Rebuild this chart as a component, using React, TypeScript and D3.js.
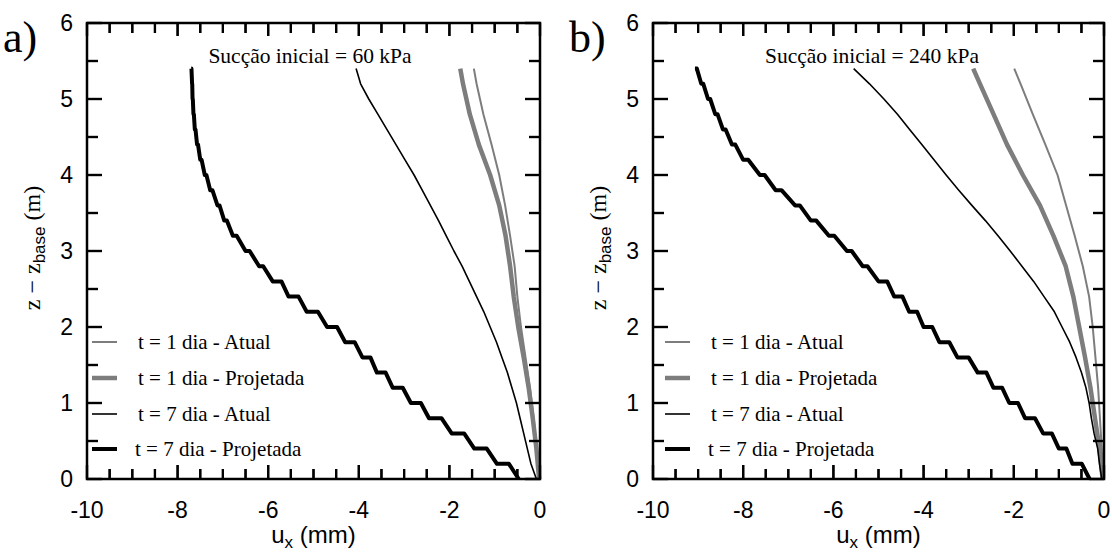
import React, { useEffect, useRef } from 'react';
import * as d3 from 'd3';

// depth grids (m)
const zFine = [0, 0.2, 0.4, 0.6, 0.8, 1.0, 1.2, 1.4, 1.6, 1.8, 2.0, 2.2, 2.4, 2.6, 2.8, 3.0, 3.2, 3.4, 3.6, 3.8, 4.0, 4.2, 4.4, 4.6, 4.8, 5.0, 5.2, 5.4];
const zCoarse = [0, 0.4, 0.8, 1.2, 1.6, 2.0, 2.4, 2.8, 3.2, 3.6, 4.0, 4.4, 4.8, 5.2, 5.4];

// Panel a (60 kPa) — u_x (mm)
const a_t1_atual = [-0.02, -0.07, -0.14, -0.22, -0.32, -0.42, -0.5, -0.56, -0.66, -0.77, -0.9, -1.07, -1.25, -1.4, -1.46];
const a_t1_proj = [-0.02, -0.08, -0.16, -0.25, -0.36, -0.48, -0.58, -0.66, -0.76, -0.9, -1.1, -1.35, -1.55, -1.7, -1.76];
const a_t7_atual = [-0.08, -0.2, -0.28, -0.36, -0.44, -0.52, -0.62, -0.72, -0.84, -0.96, -1.1, -1.24, -1.4, -1.56, -1.72, -1.9, -2.07, -2.24, -2.42, -2.6, -2.78, -2.98, -3.18, -3.38, -3.58, -3.78, -3.96, -4.06];
const a_t7_proj = [-0.47, -0.95, -1.45, -1.95, -2.45, -2.85, -3.25, -3.6, -3.92, -4.3, -4.7, -5.15, -5.55, -5.9, -6.2, -6.5, -6.78, -6.97, -7.12, -7.28, -7.4, -7.5, -7.57, -7.62, -7.65, -7.67, -7.68, -7.7];

// Panel b (240 kPa)
const b_t1_atual = [-0.02, -0.05, -0.09, -0.13, -0.19, -0.25, -0.33, -0.47, -0.65, -0.84, -1.03, -1.3, -1.58, -1.85, -1.99];
const b_t1_proj = [-0.03, -0.1, -0.2, -0.3, -0.42, -0.55, -0.68, -0.85, -1.12, -1.42, -1.8, -2.15, -2.45, -2.75, -2.9];
const b_t7_atual = [-0.05, -0.1, -0.14, -0.22, -0.28, -0.33, -0.4, -0.5, -0.62, -0.76, -0.93, -1.1, -1.33, -1.56, -1.82, -2.08, -2.35, -2.63, -2.93, -3.22, -3.5, -3.77, -4.04, -4.31, -4.58, -4.88, -5.2, -5.55];
const b_t7_proj = [-0.32, -0.7, -1.0, -1.35, -1.75, -2.1, -2.45, -2.8, -3.25, -3.65, -4.0, -4.32, -4.65, -5.0, -5.35, -5.7, -6.1, -6.5, -6.85, -7.28, -7.63, -8.0, -8.25, -8.45, -8.62, -8.78, -8.93, -9.07];

const xTicks = [-10, -9.5, -9, -8.5, -8, -7.5, -7, -6.5, -6, -5.5, -5, -4.5, -4, -3.5, -3, -2.5, -2, -1.5, -1, -0.5, 0];
const yTicks = [0, 0.5, 1, 1.5, 2, 2.5, 3, 3.5, 4, 4.5, 5, 5.5, 6];
const xTickLabels = ['-10', '-8', '-6', '-4', '-2', '0'];
const yTickLabels = ['0', '1', '2', '3', '4', '5', '6'];
const legendLabels = ['t = 1 dia - Atual', 't = 1 dia - Projetada', 't = 7 dia - Atual', 't = 7 dia - Projetada'];

const GRAY = '#7d7d7d';
const styles = [
  { color: GRAY, width: 2, step: false },
  { color: GRAY, width: 4.5, step: false },
  { color: '#000', width: 1.6, step: false },
  { color: '#000', width: 4, step: true },
];

type PanelProps = {
  x0: number; x1: number; tag: string; title: string; titleX: number;
  series: { x: number[]; z: number[] }[]; legendX: number;
};

const Y0 = 23, Y1 = 479;
const SANS = "'Liberation Sans', Arial, Helvetica, sans-serif";
const SERIF = "'Liberation Serif', 'Times New Roman', serif";

function Panel({ x0, x1, tag, title, titleX, series, legendX }: PanelProps) {
  const sx = d3.scaleLinear().domain([-10, 0]).range([x0, x1]);
  const sy = d3.scaleLinear().domain([0, 6]).range([Y1, Y0]);
  const line = d3.line<[number, number]>().x(d => sx(d[0])).y(d => sy(d[1]));
  const tickRef = useRef<SVGGElement>(null);

  useEffect(() => {
    if (!tickRef.current) return;
    const g = d3.select(tickRef.current);
    g.selectAll('*').remove();
    xTicks.forEach((v, i) => {
      const major = i % 4 === 0;
      g.append('line').attr('x1', sx(v)).attr('x2', sx(v)).attr('y1', Y1).attr('y2', Y1 - (major ? 14 : 10))
        .attr('stroke', '#000').attr('stroke-width', 2.2);
      g.append('line').attr('x1', sx(v)).attr('x2', sx(v)).attr('y1', Y0).attr('y2', Y0 + (major ? 13 : 10))
        .attr('stroke', '#000').attr('stroke-width', 2.2);
    });
    yTicks.forEach((v, i) => {
      const L = i % 2 === 0 ? 15 : 11;
      g.append('line').attr('x1', x0).attr('x2', x0 + L).attr('y1', sy(v)).attr('y2', sy(v))
        .attr('stroke', '#000').attr('stroke-width', 2.2);
      g.append('line').attr('x1', x1).attr('x2', x1 - L).attr('y1', sy(v)).attr('y2', sy(v))
        .attr('stroke', '#000').attr('stroke-width', 2.2);
    });
  });

  const pathFor = (xs: number[], zs: number[], step: boolean) => {
    const pts: [number, number][] = [];
    xs.forEach((v, k) => {
      if (k === 0 || !step) pts.push([v, zs[k]]);
      else {
        const f = zs[k] <= 2.6 ? 0.55 : 0.3;
        const xm = xs[k - 1] + (1 - f) * (v - xs[k - 1]);
        pts.push([xm, zs[k]]);
        pts.push([v, zs[k]]);
      }
    });
    return line(pts) || '';
  };

  const legendRows = [342, 378, 414, 449];

  return (
    <g>
      <text x={x0 - 84} y={52} fontFamily={SERIF} fontSize={44}>{tag}</text>
      {series.map((s, i) => (
        <path key={'s' + i} d={pathFor(s.x, s.z, styles[i].step)} fill="none" stroke={styles[i].color}
          strokeWidth={styles[i].width} strokeLinejoin="round" strokeLinecap="butt" />
      ))}
      <rect x={x0} y={Y0} width={x1 - x0} height={Y1 - Y0} fill="none" stroke="#000" strokeWidth={2.5} />
      {xTickLabels.map(t => (
        <text key={'xl' + t} x={sx(+t)} y={518} textAnchor="middle" fontFamily={SANS} fontSize={23}>{t}</text>
      ))}
      {yTickLabels.map(t => (
        <text key={'yl' + t} x={x0 - 14} y={sy(+t) + 8} textAnchor="end" fontFamily={SANS} fontSize={23}>{t}</text>
      ))}
      <text x={(x0 + x1) / 2} y={543} textAnchor="middle" fontFamily={SANS} fontSize={24}>
        u<tspan fontSize={17} dy={5}>x</tspan><tspan dy={-5}> (mm)</tspan>
      </text>
      <text transform={`translate(${x0 - 47},${248}) rotate(-90)`} textAnchor="middle" fontFamily={SERIF} fontSize={24}>
        z − z<tspan fontSize={17} dy={5} fontFamily={SANS}>base</tspan><tspan dy={-5}> (m)</tspan>
      </text>
      <text x={titleX} y={63} textAnchor="middle" fontFamily={SERIF} fontSize={21.5}>{title}</text>
      {legendLabels.map((l, i) => (
        <g key={'lg' + i}>
          <line x1={legendX} x2={legendX + 25} y1={legendRows[i]} y2={legendRows[i]} stroke={styles[i].color} strokeWidth={styles[i].width} />
          <text x={legendX + (i === 3 ? 43 : 46)} y={legendRows[i] + 7} fontFamily={SERIF} fontSize={21}>{l}</text>
        </g>
      ))}
      {xTicks.map((v, i) => (
        <rect key={'xb' + i} x={sx(v) - 1.1} y={Y1 - (i % 4 === 0 ? 14 : 10)} width={2.2} height={i % 4 === 0 ? 14 : 10} fill="#000" />
      ))}
      {xTicks.map((v, i) => (
        <rect key={'xtp' + i} x={sx(v) - 1.1} y={Y0} width={2.2} height={i % 4 === 0 ? 13 : 10} fill="#000" />
      ))}
      {yTicks.map((v, i) => (
        <rect key={'yl' + i} x={x0} y={sy(v) - 1.1} width={i % 2 === 0 ? 15 : 11} height={2.2} fill="#000" />
      ))}
      {yTicks.map((v, i) => (
        <rect key={'yr' + i} x={x1 - (i % 2 === 0 ? 15 : 11)} y={sy(v) - 1.1} width={i % 2 === 0 ? 15 : 11} height={2.2} fill="#000" />
      ))}
      <g ref={tickRef} />
    </g>
  );
}

export default function App() {
  const seriesA = [
    { x: a_t1_atual, z: zCoarse },
    { x: a_t1_proj, z: zCoarse },
    { x: a_t7_atual, z: zFine },
    { x: a_t7_proj, z: zFine },
  ];
  const seriesB = [
    { x: b_t1_atual, z: zCoarse },
    { x: b_t1_proj, z: zCoarse },
    { x: b_t7_atual, z: zFine },
    { x: b_t7_proj, z: zFine },
  ];
  return (
    <svg width={1112} height={552} style={{ position: 'absolute', left: 0, top: 0 }}>
      <rect width={1112} height={552} fill="#fff" />
      <Panel x0={87} x1={540} tag="a)" title="Sucção inicial = 60 kPa" titleX={310} series={seriesA} legendX={92} />
      <Panel x0={653} x1={1104} tag="b)" title="Sucção inicial = 240 kPa" titleX={872} series={seriesB} legendX={665} />
    </svg>
  );
}
